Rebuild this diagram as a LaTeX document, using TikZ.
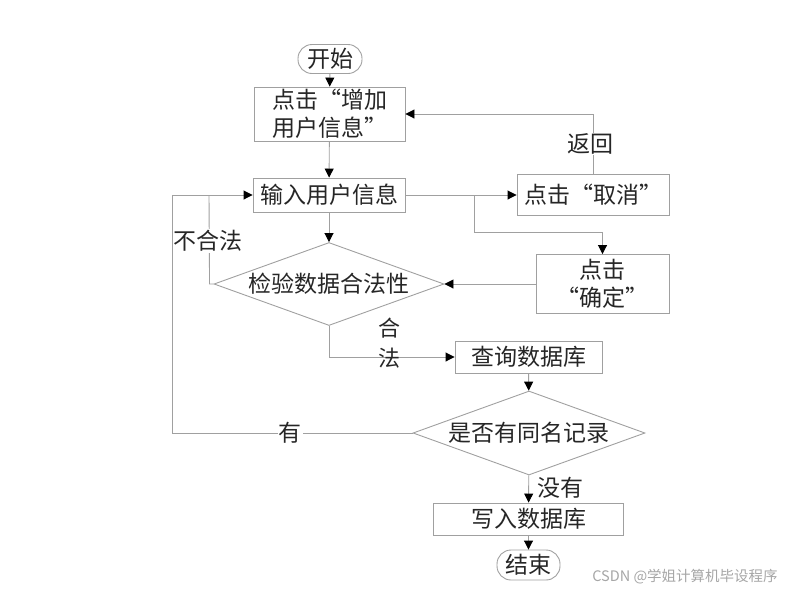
\documentclass[tikz,border=0pt]{standalone}
\usepackage{fontspec}
\newfontfamily\cjk{Noto Sans CJK SC}
\usetikzlibrary{shapes.geometric,arrows.meta}
\definecolor{linegray}{HTML}{A0A0A0}
\definecolor{txt}{HTML}{262626}
\begin{document}
\begin{tikzpicture}[x=1pt,y=-1pt,
  every node/.style={font=\cjk\fontsize{23}{28}\selectfont, text=txt, inner sep=0pt},
  proc/.style={draw=linegray, line width=0.9pt, minimum height=32pt, align=center},
  term/.style={draw=linegray, line width=0.9pt, rounded corners=14pt, minimum width=64pt, minimum height=29pt},
  decide/.style={draw=linegray, line width=0.9pt, diamond, shape aspect=2.77},
  conn/.style={draw=linegray, line width=0.9pt},
  arr/.style={conn, -{Triangle[length=9pt,width=9pt,color=black]}},
  lbl/.style={fill=white, inner sep=1pt}]
\useasboundingbox (0,0) rectangle (785,590);
% nodes
\node[term] (start) at (330,59) {开始};
\node[proc, minimum width=151pt, minimum height=54pt] (add) at (329.5,114) {点击“增加\\用户信息”};
\node[proc, minimum width=152pt, minimum height=34pt] (input) at (329,195) {输入用户信息};
\node[decide, minimum width=230pt, minimum height=83pt] (check) at (329,284) {检验数据合法性};
\node[proc, minimum width=152pt, minimum height=41pt] (cancel) at (593,195) {点击“取消”};
\node[proc, minimum width=133pt, minimum height=59pt] (confirm) at (602.5,284) {点击\\“确定”};
\node[proc, minimum width=147pt, minimum height=32pt] (query) at (528.5,357) {查询数据库};
\node[decide, minimum width=232pt, minimum height=84pt] (same) at (529,433) {是否有同名记录};
\node[proc, minimum width=190pt, minimum height=32pt] (write) at (528.5,519) {写入数据库};
\node[term, minimum width=63pt, minimum height=30pt] (end) at (528.5,565) {结束};
% helper coordinates
\coordinate (L1) at (172,195);
\coordinate (L2) at (209,195);
\coordinate (B) at (474,195);
\coordinate (B2) at (474,232);
% connectors
\draw[arr] (start) -- (add);
\draw[arr] (add) -- (input);
\draw[arr] (input) -- (check);
\draw[arr] (input) -- (cancel);
\draw[conn] (B) -- (B2);
\draw[arr] (B2) -| (confirm.north);
\draw[arr] (confirm.west) -- (check.east);
\draw[arr] (cancel.north) |- (add.east);
\draw[conn] (check.west) -- ++(-4,0) -- (L2);
\draw[arr] (same.west) -| (L1) -- (input.west);
\draw[arr] (check.south) |- (query.west);
\draw[arr] (query) -- (same);
\draw[arr] (same) -- (write);
\draw[arr] (write) -- (end);
% labels
\node[lbl] (lreturn) at (590,144) {返回};
\node[lbl] (lbad) at (208,241) {不合法};
\node[align=center, font=\cjk\fontsize{22}{30}\selectfont] (lok) at (389,343) {合\\法};
\node[lbl] (lyes) at (290,433) {有};
\node (lno) at (560,488) {没有};
\node[font=\cjk\fontsize{14.5}{16}\selectfont, text=black!35] (wm) at (685,577) {CSDN @学姐计算机毕设程序};
\end{tikzpicture}
\end{document}
